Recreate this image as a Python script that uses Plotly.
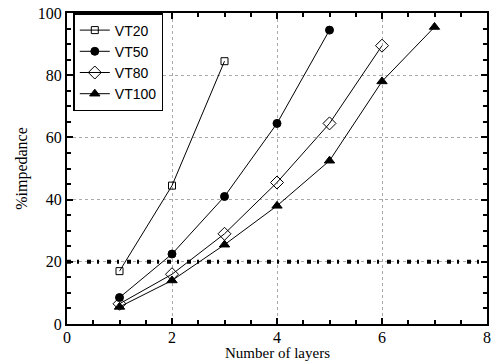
import plotly.graph_objects as go

layers_vt20 = [1, 2, 3]
imp_vt20 = [17, 44.5, 84.5]
layers_vt50 = [1, 2, 3, 4, 5]
imp_vt50 = [8.5, 22.5, 41, 64.5, 94.5]
layers_vt80 = [1, 2, 3, 4, 5, 6]
imp_vt80 = [6.5, 16, 29, 45.5, 64.5, 89.5]
layers_vt100 = [1, 2, 3, 4, 5, 6, 7]
imp_vt100 = [5.5, 14, 25.5, 38, 52.5, 78, 95.5]
threshold_x = [0, 8]
threshold_y = [20, 20]

fig = go.Figure()
fig.add_trace(go.Scatter(x=threshold_x, y=threshold_y, mode="lines", showlegend=False,
                         line=dict(color="black", width=4, dash="4px,6px,2px,8px"),
                         hoverinfo="skip"))
series = [
    ("VT20", layers_vt20, imp_vt20, "square-open", 7),
    ("VT50", layers_vt50, imp_vt50, "circle", 8),
    ("VT80", layers_vt80, imp_vt80, "diamond-open", 10),
    ("VT100", layers_vt100, imp_vt100, "triangle-up", 9),
]
for name, x, y, sym, sz in series:
    fig.add_trace(go.Scatter(x=x, y=y, name=name, mode="lines+markers",
                             line=dict(color="black", width=1),
                             marker=dict(symbol=sym, size=sz, color="black",
                                         line=dict(color="black", width=1))))

axis_common = dict(showline=True, linecolor="black", linewidth=2, mirror="allticks",
                   ticks="inside", ticklen=6, tickwidth=1.5, tickcolor="black",
                   showgrid=True, gridcolor="#aaa", griddash="dot", gridwidth=1,
                   zeroline=False,
                   tickfont=dict(family="Liberation Serif", size=16, color="black"),
                   minor=dict(ticks="inside", ticklen=4, tickcolor="black", showgrid=False))

fig.update_xaxes(range=[0, 8], dtick=2, tick0=0, ticklabelstandoff=-2, **axis_common)
fig.update_yaxes(range=[0, 100], dtick=20, tick0=0,
                 title=dict(text="%impedance", standoff=6,
                            font=dict(family="Liberation Serif", size=16, color="black")),
                 **axis_common)

fig.add_annotation(text="Number of layers", xref="paper", yref="paper", x=0.5, y=0,
                   yshift=-29, showarrow=False, yanchor="middle",
                   font=dict(family="Liberation Serif", size=15, color="black"))

fig.update_layout(
    width=494, height=361,
    margin=dict(l=67, r=3, t=13, b=37),
    plot_bgcolor="white", paper_bgcolor="white",
    legend=dict(x=0.015, y=1.0, xanchor="left", yanchor="top",
                bordercolor="black", borderwidth=1.5, bgcolor="white",
                font=dict(family="Liberation Sans", size=14, color="black"),
                tracegroupgap=0, itemwidth=30),
)

fig.write_html("out.html")
